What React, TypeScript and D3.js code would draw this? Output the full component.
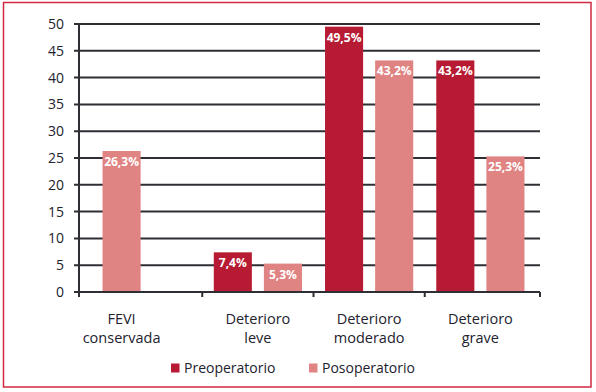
import React from "react";
import * as d3 from "d3";

const categories = ["FEVI conservada", "Deterioro leve", "Deterioro moderado", "Deterioro grave"];
const categoryLines = [["FEVI", "conservada"], ["Deterioro", "leve"], ["Deterioro", "moderado"], ["Deterioro", "grave"]];
const seriesNames = ["Preoperatorio", "Posoperatorio"];
const preValues: (number | null)[] = [null, 7.4, 49.5, 43.2];
const postValues: (number | null)[] = [26.3, 5.3, 43.2, 25.3];
const valueLabelsPre = ["", "7,4%", "49,5%", "43,2%"];
const valueLabelsPost = ["26,3%", "5,3%", "43,2%", "25,3%"];
const yTicks = [0, 5, 10, 15, 20, 25, 30, 35, 40, 45, 50];

const W = 596;
const H = 392;
const colors = ["#b71b33", "#e08383"];
const FONT = "'Open Sans', 'Noto Sans', sans-serif";
const TEXT = "#22222e";
const GRID = "#2e2e34";

export default function App() {
  const plotLeft = 79;
  const plotRight = 540;
  const y = d3.scaleLinear().domain([0, 50]).range([292, 24]);
  const x0 = d3.scaleBand<string>().domain(categories).range([91, 536]).paddingInner(0).paddingOuter(0);
  const x1 = d3.scaleBand<number>().domain([0, 1]).range([0, x0.bandwidth()]).paddingInner(0.24).paddingOuter(0.23);
  const series = [preValues, postValues];
  const labels = [valueLabelsPre, valueLabelsPost];

  const bars: { cat: string; ci: number; si: number; slot: number; v: number; label: string }[] = [];
  categories.forEach((cat, ci) => {
    let slot = 0;
    series.forEach((vals, si) => {
      const v = vals[ci];
      if (v != null) {
        bars.push({ cat, ci, si, slot, v, label: labels[si][ci] });
        slot++;
      }
    });
  });

  const labelCenters = categories.map((cat, ci) => {
    const bs = bars.filter((b) => b.ci === ci);
    const xs = bs.map((b) => (x0(cat) as number) + (x1(b.slot) as number));
    const minX = d3.min(xs) as number;
    const maxX = (d3.max(xs) as number) + x1.bandwidth();
    return (minX + maxX) / 2;
  });

  const xTickPositions = [plotLeft, ...categories.slice(1).map((c) => x0(c) as number), plotRight];

  return (
    <svg width={W} height={H} style={{ position: "absolute", left: 0, top: 0 }} fontFamily={FONT}>
      <rect x={0} y={0} width={W} height={H} fill="#fff" />
      <rect x={3.5} y={2.5} width={587.5} height={384.5} fill="none" stroke="#cf2a40" strokeWidth={1.5} />
      {yTicks.map((t) => (
        <g key={t}>
          {t > 0 && (
            <line x1={plotLeft - 5} x2={plotRight} y1={y(t)} y2={y(t)} stroke={GRID} strokeWidth={2} />
          )}
          <text x={64} y={y(t) + 5} textAnchor="end" fontSize={14} fill={TEXT}>
            {t}
          </text>
        </g>
      ))}
      {bars.map((b, i) => {
        const bx = (x0(b.cat) as number) + (x1(b.slot) as number);
        const by = y(b.v);
        return (
          <g key={i}>
            <rect x={bx} y={by} width={x1.bandwidth()} height={y(0) - by} fill={colors[b.si]} />
            <text
              x={bx + x1.bandwidth() / 2}
              y={by + 15}
              textAnchor="middle"
              fontSize={12}
              fontWeight="bold"
              fill="#fff"
            >
              {b.label}
            </text>
          </g>
        );
      })}
      <line x1={plotLeft} x2={plotLeft} y1={y(50) - 1} y2={y(0) + 5} stroke={GRID} strokeWidth={2} />
      <line x1={plotLeft - 5} x2={plotRight} y1={y(0)} y2={y(0)} stroke={GRID} strokeWidth={2} />
      {xTickPositions.map((tx, i) => (
        <line key={i} x1={tx} x2={tx} y1={y(0)} y2={y(0) + 5} stroke={GRID} strokeWidth={2} />
      ))}
      {categoryLines.map((lines, ci) => (
        <g key={ci}>
          <text x={labelCenters[ci]} y={323.5} textAnchor="middle" fontSize={14.5} fill={TEXT}>
            {lines[0]}
          </text>
          <text x={labelCenters[ci]} y={343} textAnchor="middle" fontSize={14.5} fill={TEXT}>
            {lines[1]}
          </text>
        </g>
      ))}
      {seriesNames.map((name, si) => {
        const lx = si === 0 ? 171 : 309;
        return (
          <g key={name}>
            <rect x={lx} y={363.5} width={8.5} height={9} fill={colors[si]} />
            <text x={lx + 13} y={372.5} fontSize={14} fill={TEXT}>
              {name}
            </text>
          </g>
        );
      })}
    </svg>
  );
}
